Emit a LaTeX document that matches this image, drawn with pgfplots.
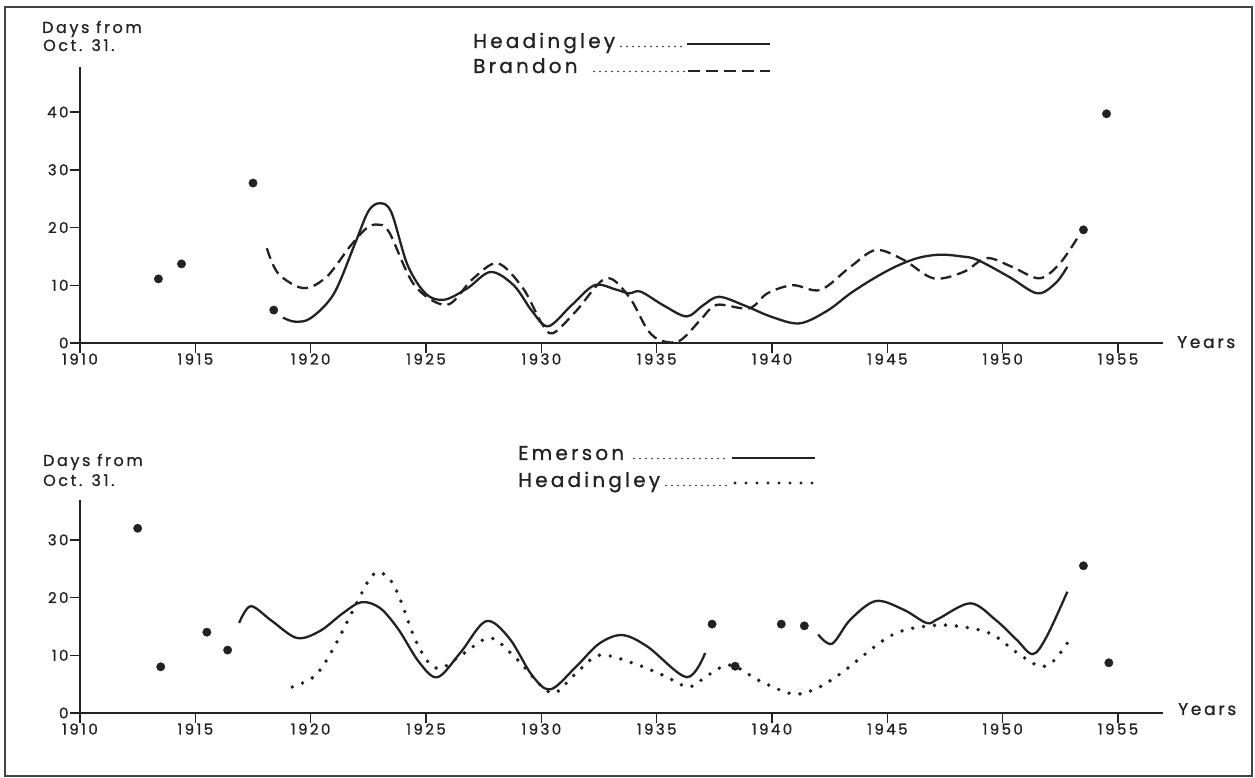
\documentclass[border=0pt]{standalone}
\usepackage{pgfplots}
\pgfplotsset{compat=1.18}
\usepackage{fontspec}
\setmainfont{Poppins}[LetterSpace=16, FakeBold=0.9]
\definecolor{ink}{HTML}{222222}

\begin{document}
\begin{tikzpicture}
\begin{scope}[x=1pt,y=1pt]
\path[use as bounding box] (0,0) rectangle (1255,778);
\draw[ink!85, line width=1.8pt] (5,2) rectangle (1252,771);
\end{scope}

\pgfplotsset{
  chart/.style={
    scale only axis, width=1083pt, xmin=1910, xmax=1956.95, ymin=0,
    axis x line=bottom, axis y line=left,
    axis line style={-, line width=1.7pt, ink},
    tick align=outside, major tick length=10pt,
    tick style={line width=1.5pt, ink},
    xtick={1910,1915,...,1955},
    xticklabels={1910,1915,1920,1925,1930,1935,1940,1945,1950,1955},
    ticklabel style={font=\fontsize{15}{17}\selectfont, text=ink},
    xticklabel style={yshift=3pt},
    yticklabel style={xshift=2pt},
    clip=false,
  },
  solidc/.style={ink, line width=2.3pt, smooth, tension=0.55},
  dashc/.style={ink, line width=2.3pt, smooth, tension=0.55, dash pattern=on 11pt off 6pt},
  dotc/.style={ink, line width=3.9pt, smooth, tension=0.55, line cap=round, dash pattern=on 0pt off 11pt},
  dotsm/.style={ink, only marks, mark=*, mark size=4.2pt},
}

% ---------------- top chart ----------------
\begin{axis}[chart, at={(80pt,435pt)}, anchor=south west, height=276pt, ymax=47.8,
  ytick={0,10,20,30,40}, yticklabels={0,10,20,30,40}]
% Headingley (solid)
\addplot[solidc] coordinates {
(1918.8,4.4) (1919.3,3.7) (1920.0,4.3) (1921.0,8.5) (1921.9,17.0) (1922.5,22.8)
(1923.0,24.2) (1923.5,22.6) (1924.2,13.5) (1925.0,8.5) (1925.8,7.5) (1926.8,9.5)
(1927.8,12.3) (1928.8,10.0) (1929.6,5.5) (1930.3,2.9) (1931.3,6.5) (1932.3,10.0)
(1933.2,9.3) (1933.8,8.6) (1934.3,8.9) (1935.3,6.5) (1936.3,4.6) (1937.0,6.5)
(1937.7,8.0) (1938.8,6.5) (1940.0,4.5) (1941.2,3.4) (1942.4,5.6) (1943.4,8.6)
(1944.5,11.4) (1945.5,13.5) (1946.4,14.8) (1947.3,15.3) (1948.2,15.0) (1948.9,14.4)
(1950.3,11.4) (1951.5,8.6) (1952.3,10.4) (1952.8,13.2)};
% Brandon (dashed)
\addplot[dashc] coordinates {
(1918.1,16.4) (1918.6,12.0) (1919.7,9.5) (1920.7,11.5) (1921.7,16.7) (1922.4,19.8)
(1922.9,20.5) (1923.4,19.2) (1924.5,10.0) (1925.9,6.6) (1927.0,11.0) (1928.1,13.8)
(1929.2,9.5) (1930.0,3.5) (1930.5,1.7) (1931.5,5.5) (1932.8,11.2) (1933.8,8.0)
(1934.6,2.3) (1935.2,0.4) (1936.0,0.4) (1936.9,4.0) (1937.6,6.6) (1939.0,6.0)
(1939.8,8.6) (1940.9,10.0) (1942.1,9.2) (1943.4,13.2) (1944.5,16.1) (1945.7,14.4)
(1947.0,11.2) (1948.3,12.3) (1949.3,14.7) (1950.4,13.2) (1951.6,11.2) (1952.5,13.9)
(1953.3,18.6)};
% isolated observations
\addplot[dotsm] coordinates {
(1913.4,11.1) (1914.4,13.7) (1917.5,27.7) (1918.4,5.7) (1953.5,19.6) (1954.5,39.7)};
\end{axis}

% ---------------- bottom chart ----------------
\begin{axis}[chart, at={(80pt,65pt)}, anchor=south west, height=213pt, ymax=36.9,
  ytick={0,10,20,30}, yticklabels={0,10,20,30}]
% Emerson (solid), two pieces
\addplot[solidc] coordinates {
(1916.9,15.6) (1917.4,18.5) (1918.3,16.0) (1919.4,13.0) (1920.4,14.2) (1921.4,17.3)
(1922.2,19.2) (1923.0,18.2) (1923.8,14.5) (1924.7,8.8) (1925.5,6.2) (1926.5,10.5)
(1927.6,15.9) (1928.6,13.0) (1929.6,6.5) (1930.4,4.1) (1931.5,8.0) (1932.5,12.0)
(1933.5,13.5) (1934.6,11.5) (1936.3,6.2) (1937.1,10.4)};
\addplot[solidc] coordinates {
(1942.0,13.6) (1942.6,12.0) (1943.4,16.2) (1944.5,19.4) (1945.7,17.9) (1946.7,15.6)
(1947.2,16.3) (1948.6,19.0) (1949.7,16.1) (1950.6,12.7) (1951.3,10.2) (1951.9,13.2)
(1952.8,21.0)};
% Headingley (dotted)
\addplot[dotc] coordinates {
(1919.2,4.5) (1920.2,6.5) (1921.0,11.3) (1922.1,19.9) (1922.6,23.5) (1923.0,24.4)
(1923.5,22.8) (1923.9,19.5) (1924.4,14.0) (1924.8,10.6) (1925.2,8.4) (1925.7,7.8)
(1926.7,10.5) (1927.8,13.0) (1928.9,9.5) (1930.4,3.5) (1931.4,6.5) (1932.5,10.0)
(1934.0,8.6) (1935.3,6.5) (1936.4,4.5) (1937.2,6.5) (1938.2,8.3) (1939.5,5.5)
(1940.9,3.3) (1941.9,4.2) (1943.0,6.9) (1945.2,13.5) (1947.1,15.2) (1948.6,14.7)
(1949.6,13.5) (1950.6,10.5) (1951.6,8.1) (1952.2,9.0) (1952.8,12.1)};
% isolated observations
\addplot[dotsm] coordinates {
(1912.5,32.0) (1913.5,8.0) (1915.5,14.0) (1916.4,10.9) (1937.4,15.4) (1938.4,8.1)
(1940.4,15.4) (1941.4,15.1) (1953.5,25.5) (1954.6,8.7)};
\end{axis}

% ---------------- labels ----------------
\begin{scope}[x=1pt,y=1pt,every node/.style={inner sep=0pt, text=ink}]
\node[anchor=base west, font=\fontsize{16}{18}\selectfont] at (42,745) {Days from};
\node[anchor=base west, font=\fontsize{16}{18}\selectfont] at (43,727) {Oct. 31.};
\node[anchor=base west, font=\fontsize{16}{18}\selectfont] at (43,312) {Days from};
\node[anchor=base west, font=\fontsize{16}{18}\selectfont] at (43,292) {Oct. 31.};
\node[anchor=base west, font=\fontsize{17}{19}\selectfont] at (1177,430) {Years};
\node[anchor=base west, font=\fontsize{17}{19}\selectfont] at (1178,63) {Years};

% top legend
\node[anchor=base west, font=\fontsize{20}{22}\selectfont] at (473,730) {Headingley};
\draw[ink, line width=1.6pt, line cap=round, dash pattern=on 0pt off 6pt] (621,731.5) -- (686,731.5);
\draw[ink, line width=2.5pt] (687,734) -- (770,734);
\node[anchor=base west, font=\fontsize{20}{22}\selectfont] at (473,705) {Brandon};
\draw[ink, line width=1.6pt, line cap=round, dash pattern=on 0pt off 6pt] (594,706.5) -- (684,706.5);
\draw[ink, line width=2.5pt, dash pattern=on 12pt off 6pt] (688,707) -- (770,707);

% bottom legend
\node[anchor=base west, font=\fontsize{20}{22}\selectfont] at (518,318) {Emerson};
\draw[ink, line width=1.6pt, line cap=round, dash pattern=on 0pt off 6pt] (634,319.5) -- (728,319.5);
\draw[ink, line width=2.7pt] (732,320) -- (815,320);
\node[anchor=base west, font=\fontsize{20}{22}\selectfont] at (518,291) {Headingley};
\draw[ink, line width=1.6pt, line cap=round, dash pattern=on 0pt off 6pt] (666,292.5) -- (728,292.5);
\draw[ink, line width=3.4pt, line cap=round, dash pattern=on 0pt off 11pt] (735,295) -- (815,295);
\end{scope}
\end{tikzpicture}
\end{document}
